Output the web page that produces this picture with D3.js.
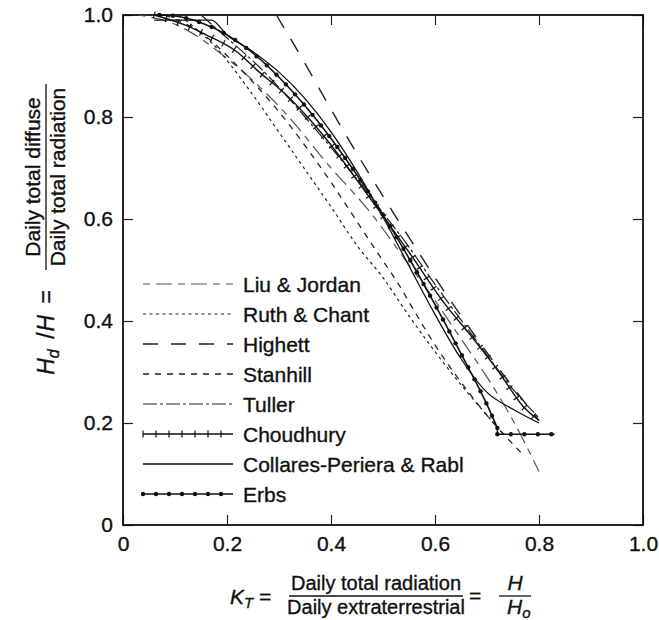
<!DOCTYPE html>
<html><head><meta charset="utf-8">
<script src="https://cdn.jsdelivr.net/npm/d3@7"></script>
<style>
body{margin:0;background:#fff}
svg{display:block}
text{font-family:"Liberation Sans",Arial,Helvetica,sans-serif;fill:#111;stroke:#111;stroke-width:0.35px}
</style>
</head><body>
<svg id="chart" width="659" height="620"></svg>
<script>
// ---- data ----
const xTicks = [0, 0.2, 0.4, 0.6, 0.8, 1.0];
const xTickLabels = ["0", "0.2", "0.4", "0.6", "0.8", "1.0"];
const yTicks = [0, 0.2, 0.4, 0.6, 0.8, 1.0];
const yTickLabels = ["0", "0.2", "0.4", "0.6", "0.8", "1.0"];

const seriesNames = ["Liu & Jordan", "Ruth & Chant", "Highett", "Stanhill", "Tuller",
  "Choudhury", "Collares-Periera & Rabl", "Erbs"];

const liuJordanKT = [0.03, 0.10, 0.20, 0.31, 0.40, 0.47, 0.55, 0.60, 0.65, 0.70, 0.75, 0.80];
const liuJordanHd = [1.00, 0.982, 0.915, 0.81, 0.70, 0.62, 0.51, 0.44, 0.365, 0.29, 0.205, 0.105];

const ruthChantKT = [0.12, 0.18, 0.24, 0.30, 0.35, 0.40, 0.45, 0.50, 0.55, 0.60, 0.65, 0.70, 0.73];
const ruthChantHd = [0.99, 0.935, 0.857, 0.77, 0.697, 0.624, 0.548, 0.485, 0.41, 0.34, 0.275, 0.215, 0.18];

const highettKT = [0.295, 0.346, 0.40, 0.45, 0.52, 0.56, 0.60, 0.65, 0.70, 0.75, 0.80];
const highettHd = [1.00, 0.912, 0.815, 0.728, 0.612, 0.548, 0.485, 0.41, 0.338, 0.27, 0.205];

const stanhillKT = [0.08, 0.15, 0.22, 0.30, 0.36, 0.40, 0.45, 0.49, 0.53, 0.56, 0.60, 0.65, 0.70, 0.77];
const stanhillHd = [1.00, 0.965, 0.90, 0.81, 0.73, 0.672, 0.595, 0.533, 0.472, 0.42, 0.353, 0.28, 0.215, 0.137];

const tullerKT = [0.15, 0.20, 0.26, 0.30, 0.35, 0.40, 0.45, 0.50, 0.55, 0.60, 0.65, 0.70, 0.75, 0.80];
const tullerHd = [1.00, 0.955, 0.90, 0.858, 0.80, 0.74, 0.678, 0.612, 0.545, 0.472, 0.402, 0.333, 0.266, 0.21];

const choudhuryKT = [0.06, 0.12, 0.16, 0.22, 0.26, 0.31, 0.36, 0.40, 0.44, 0.49, 0.55, 0.62, 0.67, 0.72, 0.77, 0.80];
const choudhuryHd = [1.00, 0.98, 0.961, 0.927, 0.89, 0.847, 0.794, 0.745, 0.69, 0.62, 0.535, 0.432, 0.37, 0.304, 0.232, 0.205];

const collaresKT = [0.06, 0.17, 0.20, 0.25, 0.30, 0.35, 0.40, 0.45, 0.50, 0.55, 0.60, 0.65, 0.70, 0.75, 0.80];
const collaresHd = [0.99, 0.99, 0.961, 0.928, 0.888, 0.836, 0.771, 0.693, 0.604, 0.508, 0.413, 0.326, 0.26, 0.227, 0.20];

const erbsKT = [0.07, 0.10, 0.15, 0.20, 0.25, 0.30, 0.35, 0.40, 0.45, 0.50, 0.55, 0.60, 0.65, 0.70, 0.72];
const erbsHd = [1.00, 0.998, 0.985, 0.961, 0.925, 0.878, 0.822, 0.758, 0.686, 0.608, 0.523, 0.432, 0.336, 0.236, 0.19];
const erbsFlatKT = [0.72, 0.83];
const erbsFlatHd = [0.178, 0.178];

// ---- styles ----
const styles = {
  "Liu & Jordan": {stroke: "#555", width: 1.2, dash: "7,6,16,6"},
  "Ruth & Chant": {stroke: "#222", width: 1.2, dash: "3,3.5"},
  "Highett": {stroke: "#222", width: 1.4, dash: "15,13"},
  "Stanhill": {stroke: "#222", width: 1.3, dash: "6,6"},
  "Tuller": {stroke: "#222", width: 1.2, dash: "14,3,3,3"},
  "Choudhury": {stroke: "#111", width: 1.4, dash: null, marker: "plus"},
  "Collares-Periera & Rabl": {stroke: "#111", width: 1.3, dash: null},
  "Erbs": {stroke: "#111", width: 1.6, dash: null, marker: "dot"}
};

const seriesData = [
  {name: "Liu & Jordan", kt: liuJordanKT, hd: liuJordanHd},
  {name: "Ruth & Chant", kt: ruthChantKT, hd: ruthChantHd},
  {name: "Highett", kt: highettKT, hd: highettHd},
  {name: "Stanhill", kt: stanhillKT, hd: stanhillHd},
  {name: "Tuller", kt: tullerKT, hd: tullerHd},
  {name: "Choudhury", kt: choudhuryKT, hd: choudhuryHd},
  {name: "Collares-Periera & Rabl", kt: collaresKT, hd: collaresHd},
  {name: "Erbs", kt: erbsKT, hd: erbsHd},
  {name: "Erbs", kt: erbsFlatKT, hd: erbsFlatHd, flat: true}
];

// ---- layout ----
const svg = d3.select("#chart");
const x = d3.scaleLinear().domain([0, 1]).range([123, 643]);
const y = d3.scaleLinear().domain([0, 1]).range([525, 15]);

const fontTick = 21;

const gx = svg.append("g").attr("transform", "translate(0,525)")
  .call(d3.axisBottom(x).tickValues(xTicks).tickFormat((d, i) => xTickLabels[i])
    .tickSizeInner(-10).tickSizeOuter(0).tickPadding(11));
const gy = svg.append("g").attr("transform", "translate(123,0)")
  .call(d3.axisLeft(y).tickValues(yTicks).tickFormat((d, i) => yTickLabels[i])
    .tickSizeInner(-10).tickSizeOuter(0).tickPadding(10));
const gt = svg.append("g").attr("transform", "translate(0,15)")
  .call(d3.axisTop(x).tickValues(xTicks).tickFormat("").tickSizeInner(-10).tickSizeOuter(0));
const gr = svg.append("g").attr("transform", "translate(643,0)")
  .call(d3.axisRight(y).tickValues(yTicks).tickFormat("").tickSizeInner(-10).tickSizeOuter(0));
[gx, gy, gt, gr].forEach(g => {
  g.select(".domain").remove();
  g.selectAll(".tick line").attr("stroke", "#222").attr("stroke-width", 1.2);
  g.selectAll(".tick text").attr("font-size", fontTick).attr("fill", "#111")
    .style("font-family", "'Liberation Sans',Arial,sans-serif");
});

svg.append("rect").attr("x", x(0)).attr("y", y(1))
  .attr("width", x(1) - x(0)).attr("height", y(0) - y(1))
  .attr("fill", "none").attr("stroke", "#111").attr("stroke-width", 1.8);

const line = d3.line().x(d => x(d[0])).y(d => y(d[1])).curve(d3.curveMonotoneX);
const lineLin = d3.line().x(d => x(d[0])).y(d => y(d[1]));

const curves = svg.append("g");
function addMarkers(pathNode, type, spacing, g, st) {
  const L = pathNode.getTotalLength();
  for (let s = 0; s <= L + 0.01; s += spacing) {
    const p = pathNode.getPointAtLength(Math.min(s, L));
    if (type === "dot") {
      g.append("circle").attr("cx", p.x).attr("cy", p.y).attr("r", 2.2).attr("fill", st.stroke);
    } else {
      const a = pathNode.getPointAtLength(Math.max(0, s - 1));
      const b = pathNode.getPointAtLength(Math.min(L, s + 1));
      let dx = b.x - a.x, dy = b.y - a.y;
      const n = Math.hypot(dx, dy) || 1;
      dx /= n; dy /= n;
      const h = 3.5;
      g.append("line").attr("x1", p.x - dy * h).attr("y1", p.y + dx * h)
        .attr("x2", p.x + dy * h).attr("y2", p.y - dx * h)
        .attr("stroke", st.stroke).attr("stroke-width", 1.2);
    }
  }
}
seriesData.forEach(s => {
  const st = styles[s.name];
  const pts = s.kt.map((k, i) => [k, s.hd[i]]);
  const p = curves.append("path").attr("d", s.flat ? lineLin(pts) : line(pts))
    .attr("fill", "none").attr("stroke", st.stroke).attr("stroke-width", st.width)
    .attr("stroke-dasharray", st.dash);
  if (st.marker) addMarkers(p.node(), st.marker, st.marker === "dot" ? 13.5 : 12.5, curves, st);
});
curves.append("path")
  .attr("d", lineLin([[erbsKT[erbsKT.length - 1], erbsHd[erbsHd.length - 1]], [erbsFlatKT[0], erbsFlatHd[0]]]))
  .attr("stroke", "#111").attr("stroke-width", 1.6).attr("fill", "none");

// legend
const legend = svg.append("g");
const legRowY = d3.scalePoint().domain(seriesNames).range([284, 494]);
seriesNames.forEach(name => {
  const st = styles[name];
  const yy = legRowY(name);
  const p = legend.append("path").attr("d", d3.line()([[143, yy], [233, yy]])).attr("fill", "none")
    .attr("stroke", st.stroke).attr("stroke-width", st.width).attr("stroke-dasharray", st.dash);
  if (st.marker) addMarkers(p.node(), st.marker, 13, legend, st);
  legend.append("text").attr("x", 243).attr("y", yy).attr("dy", "0.36em")
    .attr("font-size", 21).text(name);
});

// y-axis title (rotated)
const yt = svg.append("g").attr("transform", "translate(45,177) rotate(-90)");
yt.append("text").attr("x", -113).attr("y", 9).attr("font-size", 23).attr("text-anchor", "end")
  .html('<tspan font-style="italic">H</tspan><tspan font-style="italic" font-size="16" dy="5">d</tspan><tspan dy="-5" dx="4"> /</tspan><tspan font-style="italic" dx="1">H</tspan><tspan dx="5"> =</tspan>');
yt.append("text").attr("x", 0).attr("y", -5).attr("font-size", 21).attr("text-anchor", "middle")
  .text("Daily total diffuse");
yt.append("line").attr("x1", -93).attr("x2", 93).attr("y1", 1).attr("y2", 1)
  .attr("stroke", "#111").attr("stroke-width", 1.3);
yt.append("text").attr("x", 0).attr("y", 20).attr("font-size", 21).attr("text-anchor", "middle")
  .text("Daily total radiation");

// x-axis title
const xt = svg.append("g");
xt.append("text").attr("x", 230).attr("y", 604).attr("font-size", 21)
  .html('<tspan font-style="italic">K</tspan><tspan font-style="italic" font-size="15" dy="4">T</tspan><tspan dy="-4"> =</tspan>');
xt.append("text").attr("x", 376).attr("y", 590).attr("font-size", 20).attr("text-anchor", "middle")
  .text("Daily total radiation");
xt.append("line").attr("x1", 289).attr("x2", 463).attr("y1", 596).attr("y2", 596)
  .attr("stroke", "#111").attr("stroke-width", 1.3);
xt.append("text").attr("x", 376).attr("y", 614).attr("font-size", 20).attr("text-anchor", "middle")
  .text("Daily extraterrestrial");
xt.append("text").attr("x", 469).attr("y", 603).attr("font-size", 21).text("=");
xt.append("text").attr("x", 515).attr("y", 590).attr("font-size", 21).attr("text-anchor", "middle")
  .attr("font-style", "italic").text("H");
xt.append("line").attr("x1", 499).attr("x2", 531).attr("y1", 596).attr("y2", 596)
  .attr("stroke", "#111").attr("stroke-width", 1.3);
xt.append("text").attr("x", 507).attr("y", 614).attr("font-size", 21)
  .html('<tspan font-style="italic">H</tspan><tspan font-style="italic" font-size="15" dy="4">o</tspan>');
</script>
</body></html>
